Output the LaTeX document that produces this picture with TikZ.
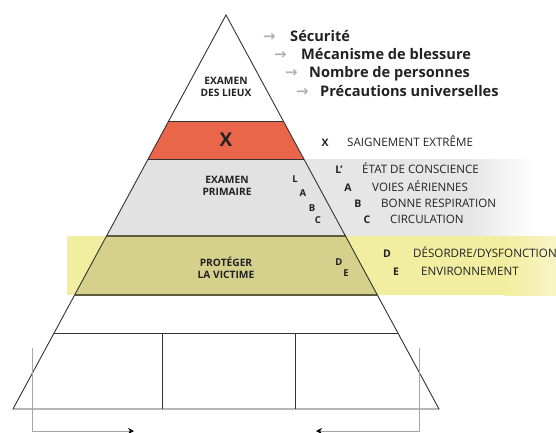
\documentclass[tikz,border=0pt]{standalone}
\usepackage{fontspec}
\setmainfont{Open Sans}
\newfontfamily\arrowfont{DejaVu Sans}
\usetikzlibrary{arrows.meta}
\definecolor{redband}{HTML}{E9664B}
\definecolor{grayin}{HTML}{E2E2E2}
\definecolor{grayout}{HTML}{E6E6E6}
\definecolor{yellowin}{HTML}{D5D18D}
\definecolor{yellowout}{HTML}{F2EEA0}
\definecolor{edge}{HTML}{333333}
\definecolor{oliveline}{HTML}{5E5C3E}
\definecolor{txt}{HTML}{222222}
\begin{document}
\begin{tikzpicture}[x=1pt,y=-1pt,
  lbl/.style={font=\bfseries\fontsize{10.2}{11.5}\selectfont, align=center, text=txt, inner sep=0},
  bigx/.style={font=\bfseries\fontsize{19}{20}\selectfont, text=txt, inner sep=0},
  bul/.style={font=\bfseries\fontsize{14.6}{16}\selectfont, anchor=base west, inner sep=0, text=txt},
  arr/.style={font=\arrowfont\bfseries\fontsize{15}{16}\selectfont, text=gray!60, anchor=base west, inner sep=0},
  itm/.style={font=\fontsize{11.6}{12}\selectfont, anchor=base west, inner sep=0, text=txt},
  key/.style={font=\bfseries\fontsize{10.5}{11}\selectfont, anchor=base, inner sep=0, text=txt},
  ltr/.style={font=\bfseries\fontsize{9.5}{10}\selectfont, inner sep=0, text=txt},
  outline/.style={draw=edge, line width=0.9pt},
  sep/.style={draw=edge, line width=0.9pt},
  sepo/.style={draw=oliveline, line width=1.3pt},
  bracket/.style={draw=gray!70, line width=0.9pt, -{Stealth[length=6pt,width=6pt,color=black]}}
]
\useasboundingbox (0,0) rectangle (556,433);
% pyramid corner coordinates
\coordinate (apex) at (226,15);
\coordinate (l1) at (168.7,121); \coordinate (r1) at (283.3,121);
\coordinate (l2) at (148.15,159); \coordinate (r2) at (303.85,159);
\coordinate (l3) at (106.5,236); \coordinate (r3) at (345.5,236);
\coordinate (l4) at (74.6,295); \coordinate (r4) at (377.4,295);
\coordinate (l5) at (54.1,333); \coordinate (r5) at (397.9,333);
\coordinate (l6) at (13,409); \coordinate (r6) at (439,409);
% outside bands
\fill[grayout] (r2) -- (470,159) -- (470,236) -- (r3) -- cycle;
\shade[left color=grayout, right color=white] (470,159) rectangle (535,236);
\fill[yellowout] (67,236) rectangle (505,295);
\shade[left color=yellowout, right color=yellowout!60!white] (505,236) rectangle (556,295);
% inside bands
\fill[redband] (l1) -- (r1) -- (r2) -- (l2) -- cycle;
\fill[grayin] (l2) -- (r2) -- (r3) -- (l3) -- cycle;
\fill[yellowin] (l3) -- (r3) -- (r4) -- (l4) -- cycle;
% separators
\draw[sep] (l1) -- (r1);
\draw[sep] (l2) -- (r2);
\draw[sepo] (l3) -- (r3);
\draw[sepo] (l4) -- (r4);
\draw[sep] (l5) -- (r5);
\coordinate (d1t) at (162,333); \coordinate (d1b) at (162,409);
\coordinate (d2t) at (295,333); \coordinate (d2b) at (295,409);
\draw[sep] (d1t) -- (d1b);
\draw[sep] (d2t) -- (d2b);
% outline
\draw[outline, line join=miter] (apex) -- (r6) -- (l6) -- cycle;
% brackets
\coordinate (bl0) at (32,348); \coordinate (bl1) at (32,431); \coordinate (bl2) at (134,431);
\coordinate (br0) at (419,348); \coordinate (br1) at (419,431); \coordinate (br2) at (316,431);
\draw[bracket] (bl0) -- (bl1) -- (bl2);
\draw[bracket] (br0) -- (br1) -- (br2);
% pyramid labels
\node[lbl] (lieux) at (226,87) {EXAMEN\\DES LIEUX};
\node[bigx] (xx) at (226,140) {X};
\node[lbl] (prim) at (227,186) {EXAMEN\\PRIMAIRE};
\node[lbl] (prot) at (226,268) {PROTÉGER\\LA VICTIME};
\node[ltr] (iL) at (295,179) {L};
\node[ltr] (iA) at (303,193) {A};
\node[ltr] (iB) at (312,208) {B};
\node[ltr] (iC) at (318,220) {C};
\node[ltr] (iD) at (339,262) {D};
\node[ltr] (iE) at (346,273) {E};
% bullet list
\node[arr] (a1) at (263,42) {→};
\node[bul] (b1) at (290,42) {Sécurité};
\node[arr] (a2) at (274,60) {→};
\node[bul] (b2) at (301,60) {Mécanisme de blessure};
\node[arr] (a3) at (285,78) {→};
\node[bul] (b3) at (309,78) {Nombre de personnes};
\node[arr] (a4) at (296,97) {→};
\node[bul] (b4) at (320,97) {Précautions universelles};
% keyed items
\node[key] (kX) at (325,146) {X};
\node[itm] (tX) at (347,146) {SAIGNEMENT EXTRÊME};
\node[key] (kL) at (339,173) {L’};
\node[itm] (tL) at (362,173) {ÉTAT DE CONSCIENCE};
\node[key] (kA) at (348,191) {A};
\node[itm] (tA) at (372,191) {VOIES AÉRIENNES};
\node[key] (kB) at (358,207) {B};
\node[itm] (tB) at (381,207) {BONNE RESPIRATION};
\node[key] (kC) at (367,223) {C};
\node[itm] (tC) at (390,223) {CIRCULATION};
\node[key] (kD) at (387,257.5) {D};
\node[itm] (tD) at (413,257.5) {DÉSORDRE/DYSFONCTION};
\node[key] (kE) at (396,275.5) {E};
\node[itm] (tE) at (421,275.5) {ENVIRONNEMENT};
\end{tikzpicture}
\end{document}
